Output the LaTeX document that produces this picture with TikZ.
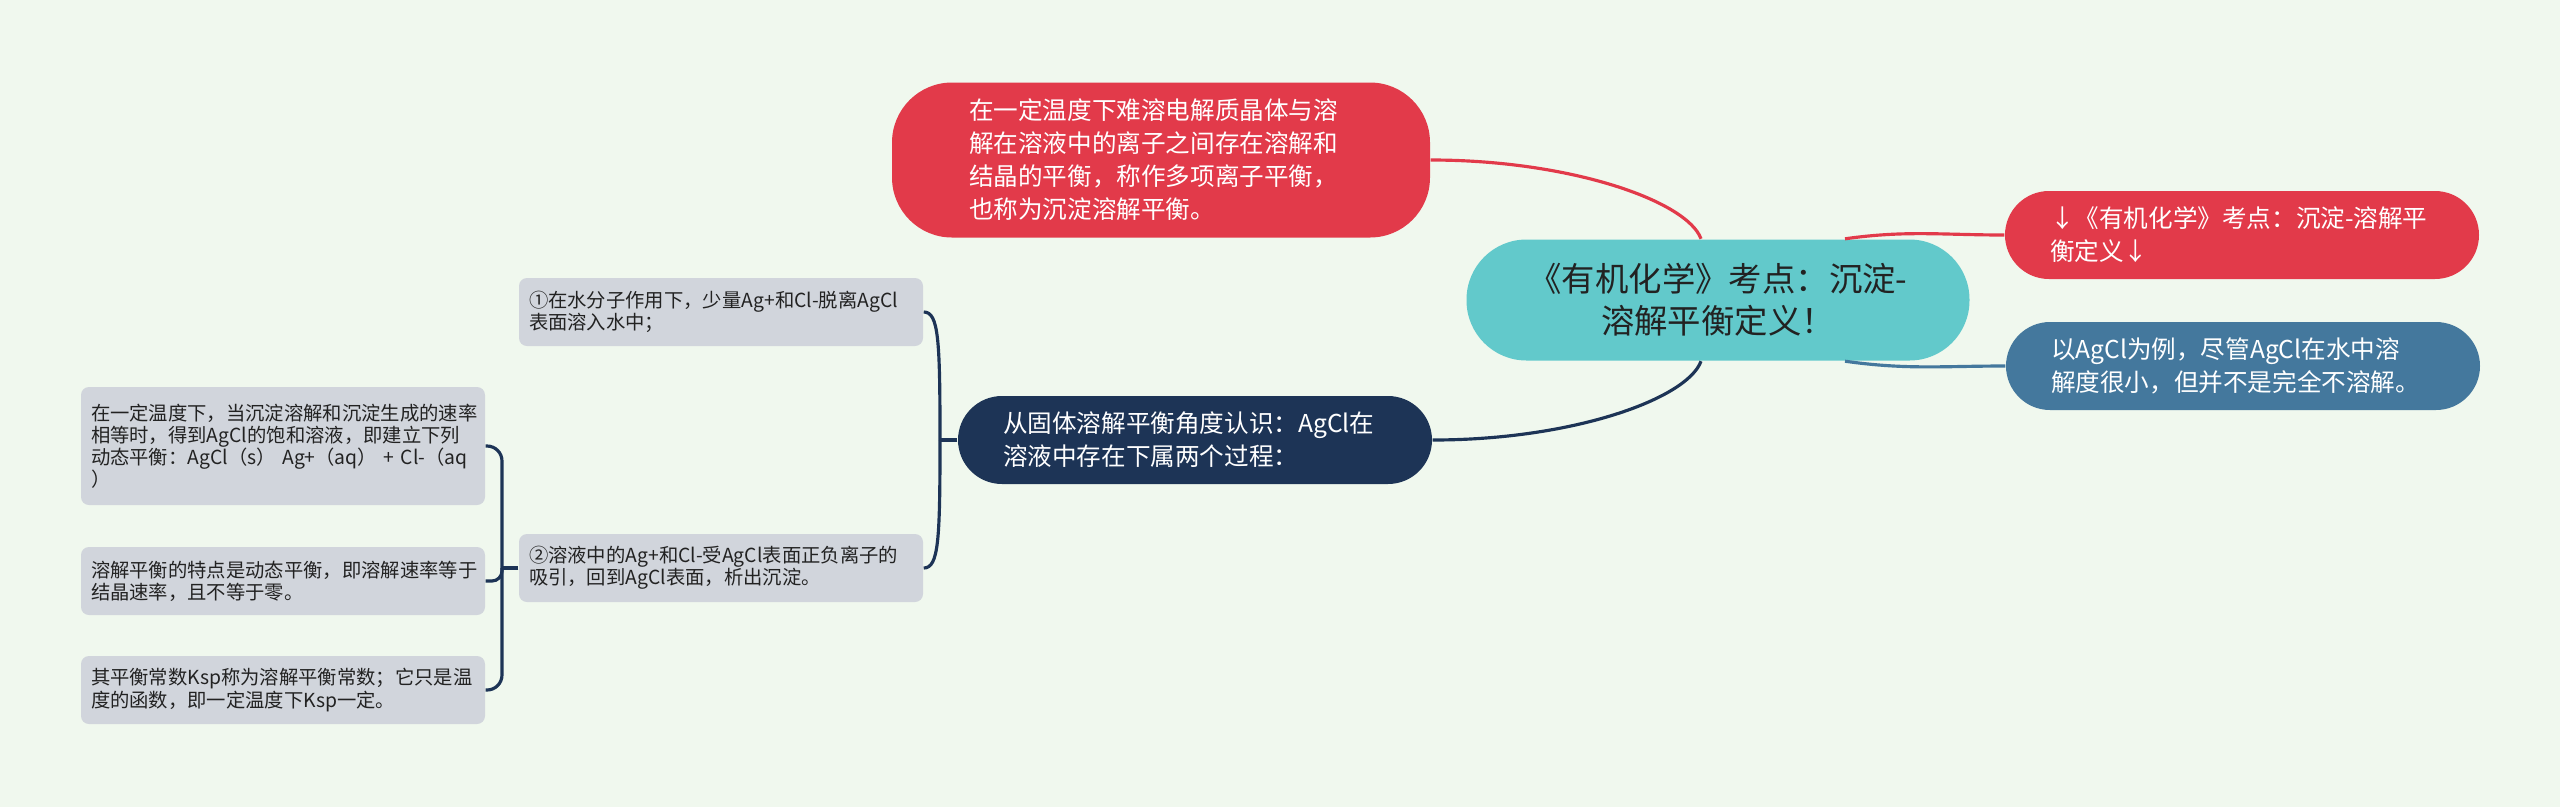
\documentclass[tikz,border=0pt]{standalone}
\usepackage{fontspec}
\newfontfamily\cjk{Noto Sans CJK SC}
\definecolor{bgmint}{HTML}{F0F8EE}
\definecolor{rootteal}{HTML}{62C9CB}
\definecolor{topicred}{HTML}{E23A4A}
\definecolor{topicblue}{HTML}{44789D}
\definecolor{topicnavy}{HTML}{1D3456}
\definecolor{leafgray}{HTML}{D1D5DC}
\definecolor{inkdark}{HTML}{222222}
\begin{document}
\begin{tikzpicture}[x=0.1mm,y=-0.1mm,
    root/.style={fill=rootteal, text=inkdark, rounded corners=6mm, minimum width=50.3mm,
      minimum height=12.1mm, inner sep=0pt, align=center, font=\cjk\fontsize{9.5pt}{11.9pt}\selectfont},
    topic/.style={text=white, text width=38.4mm, align=left, inner xsep=4.5mm, inner ysep=0pt,
      minimum height=8.8mm, rounded corners=4.4mm, font=\cjk\fontsize{7pt}{9.4pt}\selectfont},
    leaf/.style={fill=leafgray, text=inkdark, text width=38.4mm, align=left, inner xsep=1mm,
      inner ysep=0pt, minimum height=6.8mm, rounded corners=0.8mm, font=\cjk\fontsize{5.5pt}{6.3pt}\selectfont},
    link/.style={line width=0.9pt}]
  \fill[bgmint] (0,0) rectangle (2560,807);
  \useasboundingbox (0,0) rectangle (2560,807);

  \node[root] (title) at (1718,300) {《有机化学》考点：沉淀-\\溶解平衡定义！};

  \node[topic, fill=topicred, inner xsep=7.7mm, minimum height=15.5mm, rounded corners=6mm] (deftop) at (1161,160)
    {在一定温度下难溶电解质晶体与溶\\解在溶液中的离子之间存在溶解和\\结晶的平衡，称作多项离子平衡，\\也称为沉淀溶解平衡。};
  \node[topic, fill=topicred] (defright) at (2242,235) {↓《有机化学》考点：沉淀-溶解平\\衡定义↓};
  \node[topic, fill=topicblue] (agcl) at (2243,366) {以AgCl为例，尽管AgCl在水中溶\\解度很小，但并不是完全不溶解。};
  \node[topic, fill=topicnavy] (solid) at (1195,440) {从固体溶解平衡角度认识：AgCl在\\溶液中存在下属两个过程：};

  \node[leaf] (procone) at (721,312) {①在水分子作用下，少量Ag+和Cl-脱离AgCl\\表面溶入水中；};
  \node[leaf] (proctwo) at (721,568) {②溶液中的Ag+和Cl-受AgCl表面正负离子的\\吸引，回到AgCl表面，析出沉淀。};

  \node[leaf, minimum height=11.8mm] (eqa) at (283,446)
    {在一定温度下，当沉淀溶解和沉淀生成的速率\\相等时，得到AgCl的饱和溶液，即建立下列\\动态平衡：AgCl（s）~Ag+（aq）~+~Cl-（aq\\）};
  \node[leaf] (eqb) at (283,581) {溶解平衡的特点是动态平衡，即溶解速率等于\\结晶速率，且不等于零。};
  \node[leaf] (eqc) at (283,690) {其平衡常数Ksp称为溶解平衡常数；它只是温\\度的函数，即一定温度下Ksp一定。};

  % main branches
  \draw[link, topicred] ([xshift=-1.7mm]title.north) to[out=110,in=0,out distance=4mm,in distance=14mm] (deftop.east);
  \draw[link, topicred] ([xshift=12.7mm]title.north) to[out=8,in=180] (defright.west);
  \draw[link, topicblue] ([xshift=12.7mm]title.south) to[out=-8,in=180] (agcl.west);
  \draw[link, topicnavy] ([xshift=-1.7mm]title.south) to[out=-110,in=0,out distance=4mm,in distance=14mm] (solid.east);

  % two processes
  \coordinate (fork) at (940,440);
  \draw[link, topicnavy] (solid.west) -- (fork);
  \draw[link, topicnavy] (fork) to[out=90,in=0,out distance=10mm,in distance=1.5mm] (procone.east);
  \draw[link, topicnavy] (fork) to[out=-90,in=0,out distance=10mm,in distance=1.5mm] (proctwo.east);

  % equilibrium notes
  \coordinate (knot) at (502,568);
  \draw[link, topicnavy] (proctwo.west) -- (knot);
  \draw[link, topicnavy, rounded corners=1.5mm] (knot) |- (eqa.east);
  \draw[link, topicnavy, rounded corners=1mm] (knot) |- (eqb.east);
  \draw[link, topicnavy, rounded corners=1.5mm] (knot) |- (eqc.east);
\end{tikzpicture}
\end{document}
